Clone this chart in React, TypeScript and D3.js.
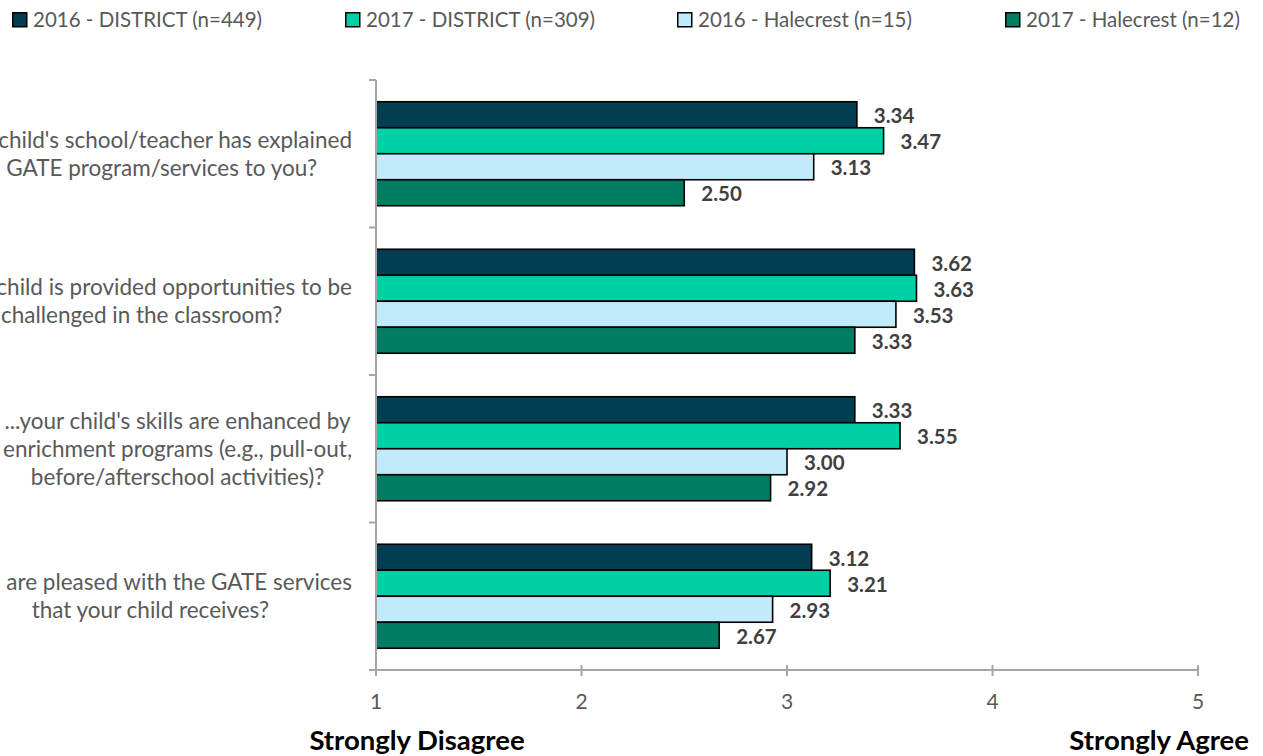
import React, { useEffect, useRef } from "react";
import * as d3 from "d3";

// ---------- data ----------
const questionLines: string[][] = [
  ["...your child's school/teacher has explained", "the GATE program/services to you?"],
  ["...your child is provided opportunities to be", "challenged in the classroom?"],
  ["...your child's skills are enhanced by", "enrichment programs (e.g., pull-out,", "before/afterschool activities)?"],
  ["...you are pleased with the GATE services", "that your child receives?"],
];

const seriesNames = [
  "2016 - DISTRICT (n=449)",
  "2017 - DISTRICT (n=309)",
  "2016 - Halecrest (n=15)",
  "2017 - Halecrest (n=12)",
];
const district2016 = [3.34, 3.62, 3.33, 3.12];
const district2017 = [3.47, 3.63, 3.55, 3.21];
const halecrest2016 = [3.13, 3.53, 3.0, 2.93];
const halecrest2017 = [2.5, 3.33, 2.92, 2.67];
const seriesValues = [district2016, district2017, halecrest2016, halecrest2017];
const seriesColors = ["#023d52", "#00d0a5", "#c0ebfa", "#007c63"];

const xTicks = [1, 2, 3, 4, 5];
const xEndLabels = ["Strongly Disagree", "Strongly Agree"];

// ---------- layout ----------
const W = 1263;
const H = 756;
const M = { left: 376, right: 1198, top: 80, bottom: 670 };
const FONT = "Lato, 'Open Sans', sans-serif";
const legendX = [12, 345, 677, 1005];

export default function App() {
  const ref = useRef<SVGSVGElement | null>(null);

  useEffect(() => {
    const svg = d3.select(ref.current);
    svg.selectAll("*").remove();

    const x = d3.scaleLinear().domain([1, 5]).range([M.left, M.right]);
    const y = d3
      .scaleBand<number>()
      .domain(d3.range(questionLines.length))
      .range([M.top, M.bottom])
      .padding(0);
    const inner = d3
      .scaleBand<number>()
      .domain(d3.range(seriesValues.length))
      .range([0, y.bandwidth()])
      .paddingInner(0)
      .paddingOuter(0.837);

    // legend
    const lg = svg.append("g");
    seriesNames.forEach((name, i) => {
      const g = lg.append("g").attr("transform", `translate(${legendX[i]},0)`);
      g.append("rect")
        .attr("x", 0.75)
        .attr("y", 12.75)
        .attr("width", 14)
        .attr("height", 14)
        .attr("fill", seriesColors[i])
        .attr("stroke", "#000")
        .attr("stroke-width", 1.5);
      g.append("text")
        .attr("x", 21)
        .attr("y", 27)
        .attr("font-family", FONT)
        .attr("font-size", 20.5)
        .attr("fill", "#595959")
        .text(name);
    });

    // bars
    const bars = svg.append("g");
    questionLines.forEach((_, qi) => {
      seriesValues.forEach((vals, si) => {
        const y0 = (y(qi) as number) + (inner(si) as number);
        bars
          .append("rect")
          .attr("x", x(1))
          .attr("y", y0)
          .attr("width", x(vals[qi]) - x(1))
          .attr("height", inner.bandwidth())
          .attr("fill", seriesColors[si])
          .attr("stroke", "#000")
          .attr("stroke-width", 1.6);
        bars
          .append("text")
          .attr("x", x(vals[qi]) + 17)
          .attr("y", y0 + inner.bandwidth() / 2 + 8.5)
          .attr("font-family", FONT)
          .attr("font-weight", 700)
          .attr("font-size", 20.5)
          .attr("fill", "#404040")
          .text(d3.format(".2f")(vals[qi]));
      });
    });

    // axes
    const axisColor = "#a6a6a6";
    const ax = svg.append("g");
    ax.append("line")
      .attr("x1", M.left)
      .attr("x2", M.left)
      .attr("y1", M.top)
      .attr("y2", M.bottom)
      .attr("stroke", axisColor)
      .attr("stroke-width", 2);
    const yTickPos = d3.range(questionLines.length + 1).map((i) =>
      i < questionLines.length ? (y(i) as number) : M.bottom
    );
    yTickPos.forEach((p) => {
      ax.append("line")
        .attr("x1", M.left - 7)
        .attr("x2", M.left)
        .attr("y1", p)
        .attr("y2", p)
        .attr("stroke", axisColor)
        .attr("stroke-width", 2);
    });
    ax.append("line")
      .attr("x1", M.left - 6)
      .attr("x2", M.right)
      .attr("y1", M.bottom)
      .attr("y2", M.bottom)
      .attr("stroke", axisColor)
      .attr("stroke-width", 2);
    xTicks.forEach((t) => {
      ax.append("line")
        .attr("x1", x(t))
        .attr("x2", x(t))
        .attr("y1", M.bottom - 5)
        .attr("y2", M.bottom + 6)
        .attr("stroke", axisColor)
        .attr("stroke-width", 2);
      ax.append("text")
        .attr("x", x(t))
        .attr("y", 709)
        .attr("text-anchor", "middle")
        .attr("font-family", FONT)
        .attr("font-size", 21)
        .attr("fill", "#595959")
        .text(String(t));
    });

    // end labels
    svg.append("text")
      .attr("x", 417)
      .attr("y", 750)
      .attr("text-anchor", "middle")
      .attr("font-family", FONT)
      .attr("font-weight", 700)
      .attr("font-size", 27.5)
      .attr("fill", "#000")
      .text(xEndLabels[0]);
    svg.append("text")
      .attr("x", 1249)
      .attr("y", 750)
      .attr("text-anchor", "end")
      .attr("font-family", FONT)
      .attr("font-weight", 700)
      .attr("font-size", 27.5)
      .attr("fill", "#000")
      .text(xEndLabels[1]);

    // category labels: block right-aligned at 352, lines centred within block
    const cat = svg.append("g");
    const lineGap = 28;
    const catSize = 22.5;
    questionLines.forEach((lines, qi) => {
      const c = (y(qi) as number) + y.bandwidth() / 2;
      const texts = lines.map((ln, k) =>
        cat
          .append("text")
          .attr("y", c + (k - (lines.length - 1) / 2) * lineGap + catSize * 0.36)
          .attr("text-anchor", "middle")
          .attr("font-family", FONT)
          .attr("font-size", catSize)
          .attr("fill", "#595959")
          .text(ln)
      );
      const maxW = d3.max(texts, (t) => (t.node() as SVGTextElement).getComputedTextLength()) || 0;
      texts.forEach((t) => t.attr("x", 352 - maxW / 2));
    });
  }, []);

  return (
    <svg
      ref={ref}
      width={W}
      height={H}
      style={{ position: "absolute", left: 0, top: 0, background: "#fff" }}
    />
  );
}
